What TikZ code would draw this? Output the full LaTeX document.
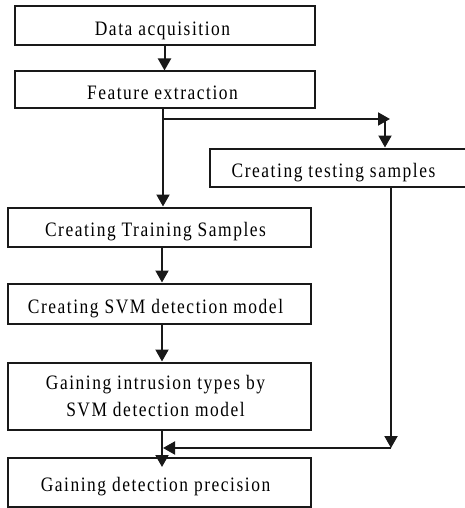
\documentclass[tikz,border=0pt]{standalone}
\usepackage{fontspec}
\setmainfont{Liberation Serif}[FakeStretch=0.85, LetterSpace=7.5]
\usetikzlibrary{arrows.meta}
\begin{document}
\begin{tikzpicture}[x=1pt,y=1pt,
  box/.style={draw=black!90, line width=2pt, rectangle, inner sep=0pt,
    font=\fontsize{20.5pt}{26.7pt}\selectfont, text height=19pt, text depth=0pt},
  arr/.style={draw=black!90, line width=2pt, -{Triangle[length=12pt,width=13pt]}}]
\useasboundingbox (0,0) rectangle (464,-508);
\coordinate (sp) at (163,0);
\node[box, minimum width=300pt, minimum height=39pt] (n1) at (164.5,-26) {Data acquisition\kern4pt};
\node[box, minimum width=300pt, minimum height=37pt] (n2) at (164.5,-90) {Feature extraction\kern4pt};
\node[box, minimum width=265pt, minimum height=38pt] (nt) at (342.5,-167.5) {Creating testing samples\kern18pt};
\node[box, minimum width=303pt, minimum height=39pt] (n3) at (159,-227) {Creating Training Samples\kern7pt};
\node[box, minimum width=303pt, minimum height=40pt] (n4) at (159,-303.5) {Creating SVM detection model\kern7pt};
\node[box, minimum width=303pt, minimum height=67pt, align=center, text height=41pt, text depth=0pt] (n5) at (159,-396) {Gaining intrusion types by\kern7pt\\SVM detection model\kern7pt};
\node[box, minimum width=303pt, minimum height=49pt] (n6) at (159,-482) {Gaining detection precision\kern7pt};
\coordinate (b0) at (163,-119);
\coordinate (b1) at (390,-119);
\coordinate (b2) at (385,-119);
\coordinate (r1) at (391,-448);
\coordinate (e6) at (162,-467);
\draw[arr] (n1) -- (n2);
\draw[arr] (n2.south -| sp) -- (n3.north -| sp);
\draw[arr] (b0) -- (b1);
\draw[arr] (b2) -- (nt.north -| b2);
\draw[arr] (n3.south -| e6) -- (n4.north -| e6);
\draw[arr] (n4.south -| e6) -- (n5.north -| e6);
\draw[arr] (n5.south -| e6) -- (e6);
\draw[arr] (nt.south -| r1) -- (r1);
\draw[arr] (r1) -- (r1 -| sp);
\end{tikzpicture}
\end{document}
